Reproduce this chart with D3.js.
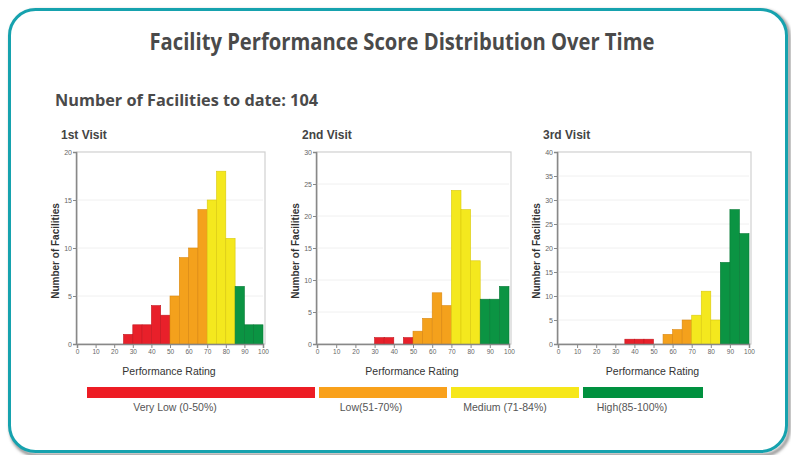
<!DOCTYPE html>
<html><head><meta charset="utf-8">
<script src="https://cdn.jsdelivr.net/npm/d3@7"></script>
<style>body{margin:0;background:#fff}svg{display:block}</style>
</head><body>
<svg id="c" width="791" height="455"></svg>
<script>
const binStarts = [0,5,10,15,20,25,30,35,40,45,50,55,60,65,70,75,80,85,90,95];
const visit1 = [0,0,0,0,0,1,2,2,4,3,5,9,10,14,15,18,11,6,2,2];
const visit2 = [0,0,0,0,0,0,1,1,0,1,2,4,8,6,24,21,13,7,7,9];
const visit3 = [0,0,0,0,0,0,0,1,1,1,0,2,3,5,6,11,5,17,28,23];
const panelTitles = ["1st Visit","2nd Visit","3rd Visit"];
const yMaxes = [20,30,40];
const xTicks = [0,10,20,30,40,50,60,70,80,90,100];
const legendLabels = ["Very Low (0-50%)","Low(51-70%)","Medium (71-84%)","High(85-100%)"];
const bandColors = ["#e8202a","#f4a11c","#f4e81e","#0b9443"];
const bandStrokes = ["#c4161e","#d98710","#d9c80e","#087a36"];
const title = "Facility Performance Score Distribution Over Time";
const subtitle = "Number of Facilities to date: 104";

const svg = d3.select("#c");
const defs = svg.append("defs");
const f = defs.append("filter").attr("id","sh").attr("x","-5%").attr("y","-5%").attr("width","115%").attr("height","115%");
f.append("feGaussianBlur").attr("stdDeviation",1.5);

// shadow + border
svg.append("rect").attr("x",11).attr("y",11).attr("width",778).attr("height",444)
  .attr("rx",26).attr("fill","none").attr("stroke","#8a8a8a").attr("stroke-width",3).attr("filter","url(#sh)");
svg.append("rect").attr("x",9.5).attr("y",9.5).attr("width",777).attr("height",442)
  .attr("rx",26).attr("fill","#fff").attr("stroke","#16a2ae").attr("stroke-width",3);

svg.append("text").attr("x",402).attr("y",50).attr("text-anchor","middle")
  .attr("font-family","Open Sans").attr("font-weight",700).attr("font-size",23)
  .attr("fill","#4a4a4a").attr("textLength",505).attr("lengthAdjust","spacingAndGlyphs").text(title);
svg.append("text").attr("x",55).attr("y",106)
  .attr("font-family","Open Sans").attr("font-weight",700).attr("font-size",16)
  .attr("fill","#4a4a4a").attr("textLength",263).attr("lengthAdjust","spacingAndGlyphs").text(subtitle);

const panels = [
  {data:visit1, x0:77, x1:263, tx:61},
  {data:visit2, x0:317, x1:509, tx:302},
  {data:visit3, x0:558, x1:749, tx:543}
];
const yTop = 152, yBot = 344;
function band(s){ return s < 50 ? 0 : s < 70 ? 1 : s < 85 ? 2 : 3; }

panels.forEach((p,i)=>{
  const g = svg.append("g");
  const x = d3.scaleLinear().domain([0,100]).range([p.x0,p.x1]);
  const y = d3.scaleLinear().domain([0,yMaxes[i]]).range([yBot,yTop]);
  // frame
  g.append("rect").attr("x",p.x0).attr("y",yTop).attr("width",p.x1-p.x0+2).attr("height",yBot-yTop)
    .attr("fill","#fff").attr("stroke","#d0d0d0").attr("stroke-width",1.2);
  // grid
  g.selectAll(".gl").data(y.ticks(yMaxes[i]/5).filter(t=>t>0&&t<yMaxes[i])).join("line")
    .attr("x1",p.x0).attr("x2",p.x1).attr("y1",d=>y(d)).attr("y2",d=>y(d))
    .attr("stroke","#f0f0f0").attr("stroke-width",1);
  // bars
  const bins = binStarts.map((s,k)=>({s, v:p.data[k]})).filter(d=>d.v>0);
  g.selectAll(".bar").data(bins).join("rect")
    .attr("x",d=>x(d.s)).attr("width",d=>x(d.s+5)-x(d.s))
    .attr("y",d=>y(d.v)).attr("height",d=>y(0)-y(d.v))
    .attr("fill",d=>bandColors[band(d.s)]).attr("stroke",d=>bandStrokes[band(d.s)]).attr("stroke-width",0.6);
  // y axis
  const ya = g.append("g").attr("transform",`translate(${p.x0-1},0)`)
    .call(d3.axisLeft(y).tickValues(d3.range(0,yMaxes[i]+1,5)).tickSize(3).tickPadding(1));
  ya.select(".domain").attr("stroke","#888").attr("stroke-width",1.5);
  ya.selectAll(".tick line").attr("stroke","#888");
  ya.selectAll("text").attr("font-family","Liberation Sans").attr("font-size",7).attr("fill","#666");
  // x axis
  const xa = g.append("g").attr("transform",`translate(0,${yBot})`)
    .call(d3.axisBottom(x).tickValues(xTicks).tickSize(4).tickPadding(1));
  xa.select(".domain").attr("stroke","#888").attr("stroke-width",1.5);
  xa.selectAll(".tick line").attr("stroke","#888");
  xa.selectAll("text").attr("font-family","Liberation Sans").attr("font-size",6.5).attr("fill","#666");
  // labels
  g.append("text").attr("x",p.tx).attr("y",139).attr("font-family","Liberation Sans")
    .attr("font-weight",700).attr("font-size",12).attr("fill","#444").text(panelTitles[i]);
  g.append("text").attr("transform",`translate(${p.x0-18},${(yTop+yBot)/2+3}) rotate(-90)`)
    .attr("text-anchor","middle").attr("font-family","Liberation Sans").attr("font-weight",700)
    .attr("font-size",10).attr("fill","#333").text("Number of Facilities");
  g.append("text").attr("x",(p.x0+p.x1)/2-1).attr("y",375).attr("text-anchor","middle")
    .attr("font-family","Liberation Sans").attr("font-size",10.5).attr("fill","#333").text("Performance Rating");
});

// legend
const legX = [[87,315],[319,447],[451,579],[583,703]];
const lx = d3.scaleLinear().domain([0,100]).range([0,100]);
const lg = svg.append("g");
lg.selectAll("rect").data(legX).join("rect")
  .attr("x",d=>lx(d[0])).attr("width",d=>lx(d[1])-lx(d[0])).attr("y",387).attr("height",11)
  .attr("fill",(d,k)=>["#ed1c24","#f9a11b","#f6e71a","#00913f"][k]);
const labelX = [175,371,505,632];
lg.selectAll("text").data(legendLabels).join("text")
  .attr("x",(d,k)=>labelX[k]).attr("y",411).attr("text-anchor","middle")
  .attr("font-family","Liberation Sans").attr("font-size",10.5).attr("fill","#555").text(d=>d);
</script>
</body></html>
